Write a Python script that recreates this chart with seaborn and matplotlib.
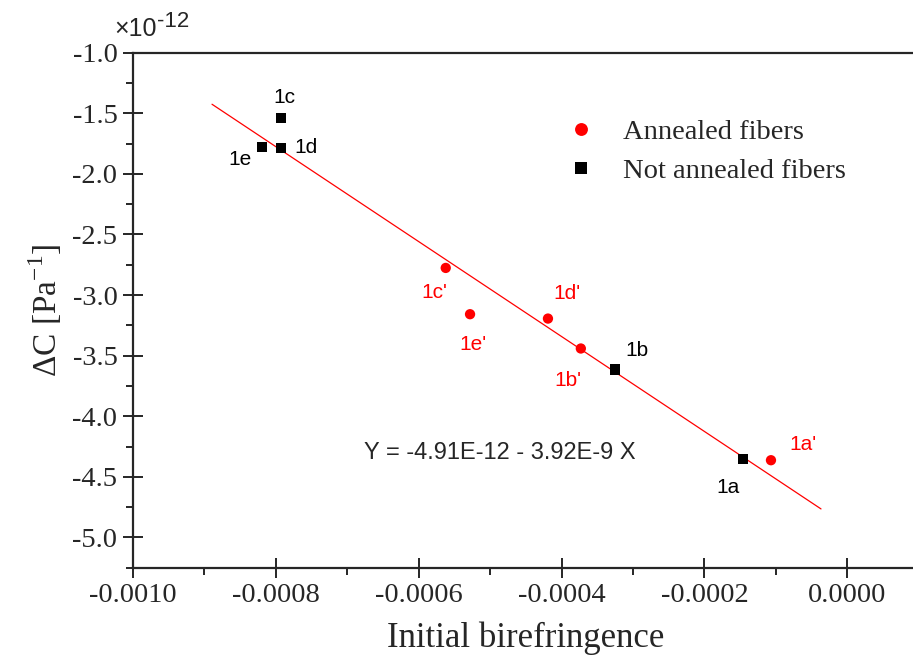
import numpy as np
import pandas as pd
import seaborn as sns
import matplotlib.pyplot as plt
from matplotlib.ticker import MultipleLocator, FuncFormatter

# data
labels_annealed = ["1a'", "1b'", "1c'", "1d'", "1e'"]
x_annealed = [-0.000107, -0.000373, -0.000562, -0.000419, -0.000528]
y_annealed = [-4.363e-12, -3.441e-12, -2.776e-12, -3.194e-12, -3.158e-12]

labels_not = ["1a", "1b", "1c", "1d", "1e"]
x_not = [-0.000146, -0.000325, -0.000792, -0.000792, -0.000819]
y_not = [-4.355e-12, -3.614e-12, -1.538e-12, -1.785e-12, -1.777e-12]

# linear fit shown on chart: Y = -4.91E-12 - 3.92E-9 X
fit_intercept = -4.91e-12
fit_slope = -3.92e-9
fit_x_range = [-0.000889, -0.000037]

groups = ["Annealed fibers", "Not annealed fibers"]

df = pd.DataFrame({
    "x": x_annealed + x_not,
    "y": y_annealed + y_not,
    "label": labels_annealed + labels_not,
    "group": [groups[0]] * len(x_annealed) + [groups[1]] * len(x_not),
})

fit_df = pd.DataFrame({"x": fit_x_range})
fit_df["y"] = fit_intercept + fit_slope * fit_df["x"]

sns.set_style("ticks")
plt.rcParams["font.family"] = ["Liberation Serif", "DejaVu Serif"]
plt.rcParams["mathtext.fontset"] = "custom"
plt.rcParams["mathtext.rm"] = "Liberation Serif"
plt.rcParams["axes.unicode_minus"] = False

fig = plt.figure(figsize=(9.13, 6.70), dpi=100)
ax = fig.add_axes([0.1453, 0.1527, 0.8612, 0.7686])

sns.lineplot(data=fit_df, x="x", y="y", color="red", lw=0.9, ax=ax, legend=False)
sns.scatterplot(data=df, x="x", y="y", hue="group", style="group",
                hue_order=groups, style_order=groups,
                palette={groups[0]: "#ff0000", groups[1]: "black"},
                markers={groups[0]: "o", groups[1]: "s"},
                s=55, linewidth=0, ax=ax, zorder=3)

# point labels (offsets in points)
offsets = {
    "1a": (-11, -20), "1b": (16, 14), "1c": (2, 15), "1d": (18, 0), "1e": (-16, -9),
    "1a'": (23, 11), "1b'": (-9, -23), "1c'": (-8, -18), "1d'": (14, 18), "1e'": (2, -22),
}
for _, r in df.iterrows():
    col = "red" if r["group"] == groups[0] else "black"
    ax.annotate(r["label"], (r["x"], r["y"]), xytext=offsets[r["label"]],
                textcoords="offset points", ha="center", va="center",
                color=col, fontsize=15, family="Liberation Sans")

ax.text(0.467, 0.2227, "Y = -4.91E-12 - 3.92E-9 X", transform=ax.transAxes,
        ha="center", va="center", fontsize=17, family="Liberation Sans")

ax.set_xlim(-0.001, 0.0001)
ax.set_ylim(-5.25e-12, -1.0e-12)
ax.xaxis.set_major_locator(MultipleLocator(0.0002))
ax.xaxis.set_minor_locator(MultipleLocator(0.0001))
ax.yaxis.set_major_locator(MultipleLocator(0.5e-12))
ax.yaxis.set_minor_locator(MultipleLocator(0.25e-12))
ax.xaxis.set_major_formatter(FuncFormatter(lambda v, p: f"{v:.4f}"))
ax.yaxis.set_major_formatter(FuncFormatter(lambda v, p: f"{v / 1e-12:.1f}"))

ax.tick_params(which="major", direction="inout", length=14, width=1.4, labelsize=20.5, pad=4)
ax.tick_params(which="minor", direction="out", length=5, width=1.4)
ax.tick_params(top=False, right=False)
for sp in ax.spines.values():
    sp.set_linewidth(1.6)

ax.set_xlabel("Initial birefringence", fontsize=25, labelpad=10)
ax.set_ylabel("ΔC [Pa$^{\\mathregular{-1}}$]", fontsize=24, labelpad=6)

# axis multiplier, drawn as plain text like the reference
fig.text(114 / 913, 1 - 36 / 670, "×10", fontsize=18,
         family="Liberation Sans", ha="left", va="baseline")
fig.text(157 / 913, 1 - 27 / 670, "-12", fontsize=16,
         family="Liberation Sans", ha="left", va="baseline")

leg = ax.legend(loc="upper left", bbox_to_anchor=(0.52, 0.893), frameon=False,
                fontsize=20.5, markerscale=1.25, handletextpad=0.45, labelspacing=0.45,
                borderaxespad=0)

fig.savefig("out.png", dpi=100)
